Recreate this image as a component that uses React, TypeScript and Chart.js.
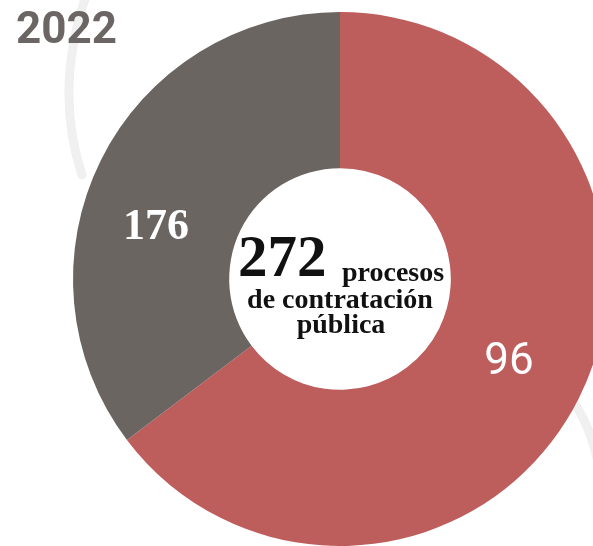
import React, { useEffect, useRef } from "react";
import { Chart, registerables } from "chart.js";

Chart.register(...registerables);

// ---- data ----
const categories = ["Segmento rojo", "Segmento gris"];
const segmentValues = [176, 96];
const segmentLabels = ["96", "176"];
const segmentColors = ["#bd5d5c", "#6b6562"];
const yearLabel = "2022";
const totalLabel = "272";
const centerLines = ["procesos", "de contratación", "pública"];

// styling for labels (font per label, small pixel nudges)
const labelFonts = ["44px Roboto", "bold 44px 'Liberation Serif'"];
const labelNudges = [
  [0, 0],
  [-15, 33],
];

export default function App() {
  const canvasRef = useRef<HTMLCanvasElement | null>(null);

  useEffect(() => {
    const canvas = canvasRef.current;
    if (!canvas) return;

    const decorPlugin = {
      id: "decor",
      beforeDatasetsDraw(chart: any) {
        const ctx = chart.ctx;
        ctx.save();
        ctx.strokeStyle = "#f0f0f0";
        ctx.lineWidth = 9;
        ctx.lineCap = "round";
        ctx.beginPath();
        ctx.moveTo(86, -4);
        ctx.quadraticCurveTo(54, 90, 82, 175);
        ctx.stroke();
        ctx.beginPath();
        ctx.moveTo(566, 392);
        ctx.quadraticCurveTo(594, 425, 602, 485);
        ctx.stroke();
        ctx.restore();
      },
      afterDatasetsDraw(chart: any) {
        const ctx = chart.ctx;
        const meta = chart.getDatasetMeta(0);
        ctx.save();
        ctx.fillStyle = "#ffffff";
        ctx.textAlign = "center";
        ctx.textBaseline = "middle";
        meta.data.forEach((arc: any, i: number) => {
          const p = arc.tooltipPosition(true);
          ctx.font = labelFonts[i];
          ctx.fillText(segmentLabels[i], p.x + labelNudges[i][0], p.y + labelNudges[i][1]);
        });

        // year title
        ctx.fillStyle = "#6b6664";
        ctx.textAlign = "left";
        ctx.textBaseline = "alphabetic";
        ctx.font = "bold 44px Roboto";
        ctx.fillText(yearLabel, 16, 43);

        // center text
        const cx = meta.data[0].x;
        ctx.fillStyle = "#111111";
        ctx.font = "bold 59px 'Liberation Serif'";
        ctx.textAlign = "left";
        ctx.fillText(totalLabel, cx - 102, 276);
        ctx.font = "bold 28px 'Liberation Serif'";
        ctx.fillText(centerLines[0], cx + 2, 281);
        ctx.textAlign = "center";
        ctx.fillText(centerLines[1], cx, 308);
        ctx.fillText(centerLines[2], cx + 1, 333);
        ctx.restore();
      },
    };

    const chart = new Chart(canvas, {
      type: "doughnut",
      data: {
        labels: categories,
        datasets: [
          {
            data: segmentValues,
            backgroundColor: segmentColors,
            borderWidth: 0,
            radius: 267,
            cutout: "41.5%",
            clip: false,
          } as any,
        ],
      },
      options: {
        responsive: false,
        animation: false,
        layout: { padding: { left: 87, right: 0, top: 12, bottom: 0 } },
        plugins: {
          legend: { display: false },
          tooltip: { enabled: false },
        },
      },
      plugins: [decorPlugin],
    });

    return () => chart.destroy();
  }, []);

  return (
    <div style={{ position: "absolute", left: 0, top: 0, width: 593, height: 546, overflow: "hidden", background: "#ffffff" }}>
      <canvas ref={canvasRef} width={593} height={546} style={{ width: 593, height: 546, display: "block" }} />
    </div>
  );
}
